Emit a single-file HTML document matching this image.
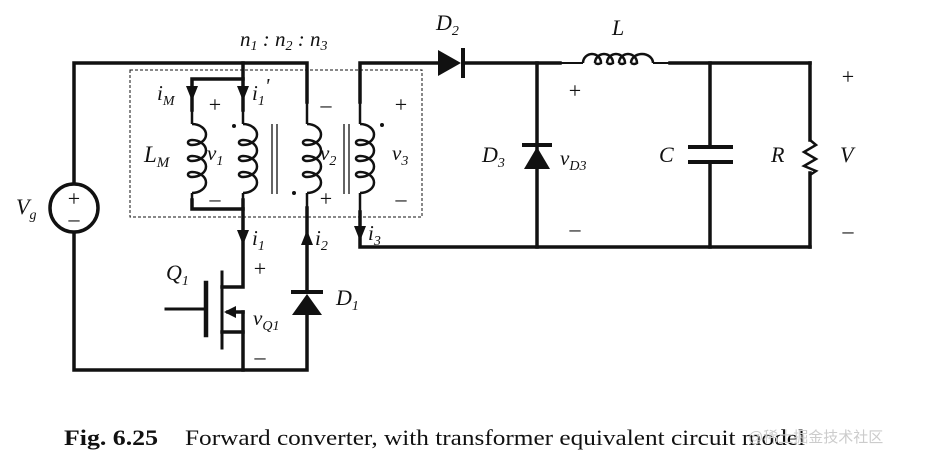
<!DOCTYPE html>
<html><head><meta charset="utf-8"><style>
body{margin:0;background:#fff;}
svg{display:block;}
text{font-family:"Liberation Serif",serif;fill:#111;}
.i{font-style:italic;}
</style></head><body>
<svg width="926" height="459" viewBox="0 0 926 459" xmlns="http://www.w3.org/2000/svg">
<g stroke="#111" stroke-width="3.5" fill="none" stroke-linecap="square">
<polyline points="74,183 74,63 307,63 307,102"/>
<polyline points="74,233 74,370 307,370 307,315"/>
<line x1="307" y1="208" x2="307" y2="292"/>
<polyline points="243,63 243,110"/>
<polyline points="243,79 192,79 192,110"/>
<polyline points="192,200 192,209 243,209 243,200"/>
<polyline points="243,209 243,287 222,287"/>
<polyline points="243,312 243,370"/>
<line x1="243" y1="312" x2="228" y2="312"/>
<line x1="243" y1="332" x2="222" y2="332"/>
<line x1="222" y1="272" x2="222" y2="348" stroke-width="3"/>
<line x1="206" y1="283" x2="206" y2="335" stroke-width="4.5"/>
<line x1="166" y1="309" x2="204" y2="309" stroke-width="3"/>
<polyline points="360,102 360,63 438,63"/>
<polyline points="360,212 360,247 810,247"/>
<line x1="463" y1="63" x2="560" y2="63"/>
<line x1="670" y1="63" x2="810" y2="63"/>
<line x1="810" y1="63" x2="810" y2="140"/>
<line x1="810" y1="173" x2="810" y2="247"/>
<line x1="537" y1="63" x2="537" y2="247"/>
<line x1="710" y1="63" x2="710" y2="147"/>
<line x1="710" y1="163" x2="710" y2="247"/>
</g>
<g stroke="#111" stroke-width="2" fill="none">
<line x1="560" y1="63" x2="583" y2="63"/>
<line x1="653" y1="63" x2="670" y2="63"/>
<path d="M583,63 a9,9 0 0 1 18,0 a6,7 0 0 1 -6,0 M595,63 a9,9 0 0 1 18,0 a6,7 0 0 1 -6,0 M607,63 a9,9 0 0 1 18,0 a6,7 0 0 1 -6,0 M619,63 a9,9 0 0 1 18,0 a6,7 0 0 1 -6,0 M631,63 a11,9 0 0 1 22,0" stroke-width="2.5"/>
<polyline points="810,140 816,145 804,152 816,159 804,166 816,171 810,175" stroke-width="2.5"/>
<line x1="272" y1="124" x2="272" y2="194" stroke-width="1.3"/>
<line x1="277" y1="124" x2="277" y2="194" stroke-width="1.3"/>
<line x1="344" y1="124" x2="344" y2="194" stroke-width="1.3"/>
<line x1="349" y1="124" x2="349" y2="194" stroke-width="1.3"/>
<rect x="130" y="70" width="292" height="147" stroke-width="1" stroke-dasharray="3,2"/>
<circle cx="74" cy="208" r="24" stroke-width="3.5"/>
<line x1="192" y1="110" x2="192" y2="124" stroke-width="2.5"/>
<line x1="243" y1="110" x2="243" y2="124" stroke-width="2.5"/>
<line x1="307" y1="102" x2="307" y2="124" stroke-width="2.5"/>
<line x1="360" y1="102" x2="360" y2="124" stroke-width="2.5"/>
<line x1="192" y1="193" x2="192" y2="200" stroke-width="2.5"/>
<line x1="243" y1="193" x2="243" y2="200" stroke-width="2.5"/>
<line x1="307" y1="193" x2="307" y2="208" stroke-width="2.5"/>
<line x1="360" y1="193" x2="360" y2="212" stroke-width="2.5"/>
</g>
<g stroke="#111" stroke-width="2.5" fill="none">
<path d="M0,0 a14,10.5 0 0 1 0,21 a4,2.5 0 0 1 0,-5 a14,10.5 0 0 1 0,21 a4,2.5 0 0 1 0,-5 a14,10.5 0 0 1 0,21 a4,2.5 0 0 1 0,-5 a14,10.5 0 0 1 0,21" transform="translate(192,124)"/>
<path d="M0,0 a14,10.5 0 0 1 0,21 a4,2.5 0 0 1 0,-5 a14,10.5 0 0 1 0,21 a4,2.5 0 0 1 0,-5 a14,10.5 0 0 1 0,21 a4,2.5 0 0 1 0,-5 a14,10.5 0 0 1 0,21" transform="translate(243,124)"/>
<path d="M0,0 a14,10.5 0 0 1 0,21 a4,2.5 0 0 1 0,-5 a14,10.5 0 0 1 0,21 a4,2.5 0 0 1 0,-5 a14,10.5 0 0 1 0,21 a4,2.5 0 0 1 0,-5 a14,10.5 0 0 1 0,21" transform="translate(307,124)"/>
<path d="M0,0 a14,10.5 0 0 1 0,21 a4,2.5 0 0 1 0,-5 a14,10.5 0 0 1 0,21 a4,2.5 0 0 1 0,-5 a14,10.5 0 0 1 0,21 a4,2.5 0 0 1 0,-5 a14,10.5 0 0 1 0,21" transform="translate(360,124)"/>
</g>
<g fill="#111">
<circle cx="234" cy="126" r="2"/><circle cx="294" cy="193" r="2"/><circle cx="382" cy="125" r="2"/>
<polygon points="438,50 438,76 461,63"/><rect x="461" y="48" width="4" height="30"/>
<rect x="522" y="143" width="30" height="4"/><polygon points="537,147 524,169 550,169"/>
<rect x="291" y="290" width="32" height="4"/><polygon points="307,294 292,315 322,315"/>
<rect x="688" y="145" width="45" height="4"/><rect x="688" y="160" width="45" height="4"/>
<polygon points="186,86 198,86 192,101"/>
<polygon points="237,86 249,86 243,101"/>
<polygon points="237,230 249,230 243,245"/>
<polygon points="301,245 313,245 307,230"/>
<polygon points="354,226 366,226 360,241"/>
<polygon points="224,312 236,306 236,318"/>
</g>
<g font-size="21">
<text x="240" y="46" class="i">n<tspan font-size="14" dy="4">1</tspan><tspan dy="-4"> : </tspan>n<tspan font-size="14" dy="4">2</tspan><tspan dy="-4"> : </tspan>n<tspan font-size="14" dy="4">3</tspan></text>
<text x="157" y="100" class="i">i<tspan font-size="14" dy="5">M</tspan></text>
<text x="252" y="100" class="i">i<tspan font-size="14" dy="5">1</tspan><tspan dy="-12">'</tspan></text>
<text x="144" y="162" class="i" font-size="23">L<tspan font-size="15" dy="5">M</tspan></text>
<text x="207" y="160" class="i">v<tspan font-size="14" dy="5">1</tspan></text>
<text x="320" y="160" class="i">v<tspan font-size="14" dy="5">2</tspan></text>
<text x="392" y="160" class="i">v<tspan font-size="14" dy="5">3</tspan></text>
<text x="252" y="245" class="i">i<tspan font-size="14" dy="5">1</tspan></text>
<text x="315" y="245" class="i">i<tspan font-size="14" dy="5">2</tspan></text>
<text x="368" y="240" class="i">i<tspan font-size="14" dy="5">3</tspan></text>
<text x="166" y="280" class="i" font-size="22">Q<tspan font-size="14" dy="5">1</tspan></text>
<text x="253" y="325" class="i">v<tspan font-size="14" dy="5">Q1</tspan></text>
<text x="336" y="305" class="i" font-size="22">D<tspan font-size="14" dy="5">1</tspan></text>
<text x="436" y="30" class="i" font-size="22">D<tspan font-size="14" dy="5">2</tspan></text>
<text x="612" y="35" class="i" font-size="22">L</text>
<text x="482" y="162" class="i" font-size="22">D<tspan font-size="14" dy="5">3</tspan></text>
<text x="560" y="165" class="i">v<tspan font-size="14" dy="5">D3</tspan></text>
<text x="659" y="162" class="i" font-size="22">C</text>
<text x="771" y="162" class="i" font-size="22">R</text>
<text x="840" y="162" class="i" font-size="22">V</text>
<text x="16" y="214" class="i" font-size="22">V<tspan font-size="14" dy="5">g</tspan></text>
</g>
<g font-size="22" text-anchor="middle" style="font-family:'Liberation Sans',sans-serif">
<text x="215" y="112">+</text><text x="215" y="206">–</text>
<text x="326" y="112">–</text><text x="326" y="206">+</text>
<text x="401" y="112">+</text><text x="401" y="206">–</text>
<text x="260" y="276">+</text><text x="260" y="364">–</text>
<text x="575" y="98">+</text><text x="575" y="236">–</text>
<text x="848" y="84">+</text><text x="848" y="238">–</text>
<text x="74" y="206">+</text><text x="74" y="226">–</text>
</g>
<text x="64" y="445" font-size="22" font-weight="bold" textLength="94" lengthAdjust="spacingAndGlyphs">Fig. 6.25</text>
<text x="185" y="445" font-size="22" textLength="620" lengthAdjust="spacingAndGlyphs">Forward converter, with transformer equivalent circuit model</text>
<text x="748" y="442" font-size="15" style="font-family:'Liberation Sans','Noto Sans CJK SC',sans-serif;fill:#ccc">@稀土掘金技术社区</text>
</svg>
</body></html>
